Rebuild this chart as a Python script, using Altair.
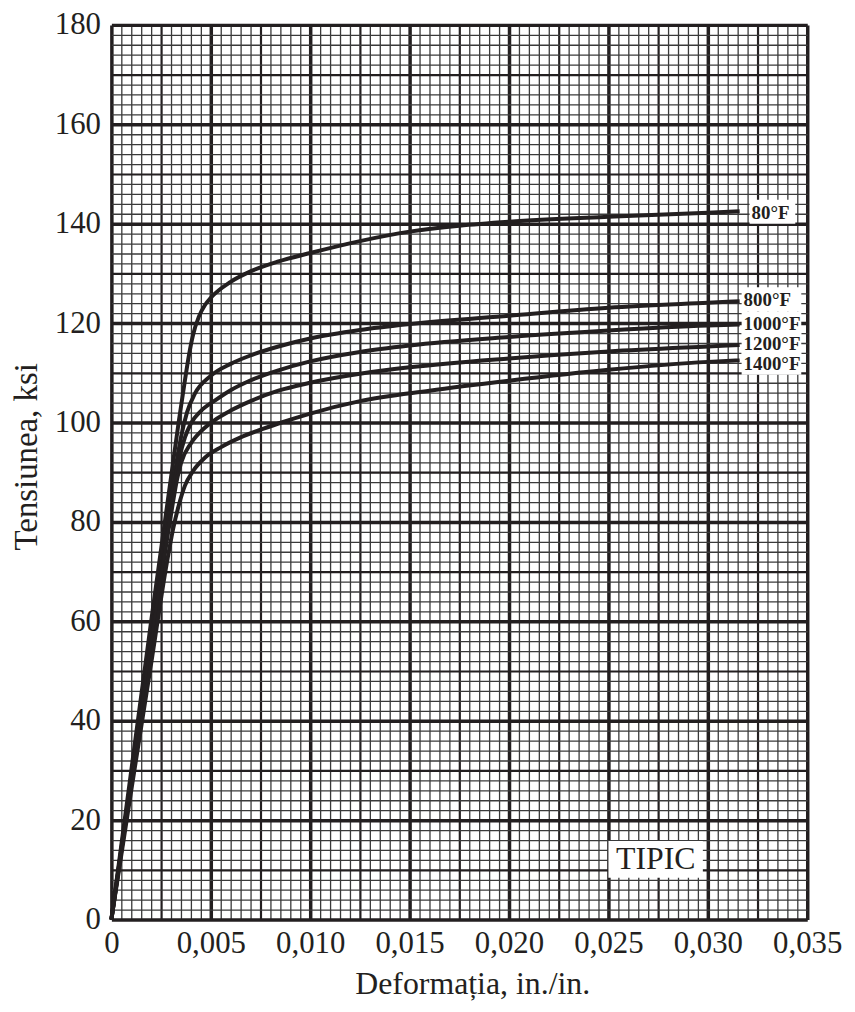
import altair as alt
import pandas as pd

# ---- data (strain in in./in., stress in ksi) ----
labels = ["80°F", "800°F", "1000°F", "1200°F", "1400°F"]

strain_80 = [0, 0.0010, 0.0020, 0.0030, 0.0034, 0.0037, 0.0039, 0.0041, 0.0044, 0.0047, 0.0050,
             0.0060, 0.0070, 0.0084, 0.0100, 0.0125, 0.0150, 0.0175, 0.0200, 0.0250, 0.0300, 0.0316]
stress_80 = [0, 30, 60, 89, 100.5, 108.5, 113.5, 117.5, 121.3, 123.6, 125.1,
             128.3, 130.4, 132.4, 134.1, 136.5, 138.4, 139.6, 140.4, 141.4, 142.2, 142.5]

strain_800 = [0, 0.0010, 0.0020, 0.0028, 0.0030, 0.0033, 0.0035, 0.0038, 0.0042, 0.0050,
              0.0060, 0.0070, 0.0084, 0.0100, 0.0125, 0.0150, 0.0200, 0.0250, 0.0300, 0.0316]
stress_800 = [0, 28.5, 57, 80, 85, 92.5, 97, 102, 105.8, 109.4,
              111.8, 113.5, 115.3, 116.9, 118.6, 119.8, 121.5, 123.1, 124.1, 124.4]

strain_1000 = [0, 0.0010, 0.0020, 0.0028, 0.0031, 0.0034, 0.0037, 0.0040, 0.0045, 0.0052,
               0.0060, 0.0069, 0.0084, 0.0100, 0.0125, 0.0150, 0.0200, 0.0250, 0.0300, 0.0316]
stress_1000 = [0, 28, 56, 78, 86, 92.5, 97, 99.8, 102.3, 104.4,
               106.5, 108.3, 110.5, 112.3, 114.2, 115.5, 117.2, 118.5, 119.5, 119.7]

strain_1200 = [0, 0.0010, 0.0020, 0.0028, 0.0031, 0.0033, 0.0035, 0.0040, 0.0046, 0.0052,
               0.0060, 0.0070, 0.0084, 0.0100, 0.0125, 0.0150, 0.0200, 0.0250, 0.0300, 0.0316]
stress_1200 = [0, 27.5, 55, 76.5, 84, 88.5, 91.8, 95.8, 98.6, 100.5,
               102.4, 104.3, 106.4, 108.0, 109.8, 111.1, 112.9, 114.3, 115.3, 115.6]

strain_1400 = [0, 0.0010, 0.0020, 0.0028, 0.0031, 0.0034, 0.0037, 0.0041, 0.0047, 0.0055,
               0.0065, 0.0074, 0.0084, 0.0100, 0.0125, 0.0160, 0.0200, 0.0250, 0.0300, 0.0316]
stress_1400 = [0, 26, 51.5, 72, 78.5, 83.5, 87.3, 90.2, 92.9, 95.0,
               97.0, 98.4, 99.8, 101.8, 104.3, 106.4, 108.4, 110.6, 112.2, 112.5]

strains = [strain_80, strain_800, strain_1000, strain_1200, strain_1400]
stresses = [stress_80, stress_800, stress_1000, stress_1200, stress_1400]

# stress level at which each curve's label sits
label_stress = [142.4, 124.8, 120.0, 116.0, 112.0]

note_text = ["TIPIC"]
note_x = [0.02738]
note_y = [12.1]
note_box_x = [0.0250]
note_box_x2 = [0.02975]
note_box_y = [8.4]
note_box_y2 = [15.8]

x_ticks = [round(i * 0.0005, 4) for i in range(71)]
y_ticks = list(range(0, 181, 2))

# ---- tables ----
rows = []
for name, xs, ys in zip(labels, strains, stresses):
    for i, (xv, yv) in enumerate(zip(xs, ys)):
        rows.append({"series": name, "order": i, "strain": xv, "stress": yv})
df = pd.DataFrame(rows)

ends = pd.DataFrame({
    "series": labels,
    "strain": [xs[-1] for xs in strains],
    "stress": label_stress,
})
note = pd.DataFrame({"text": note_text, "x": note_x, "y": note_y,
                     "bx": note_box_x, "bx2": note_box_x2,
                     "by": note_box_y, "by2": note_box_y2})

INK = "#231f20"
FONT = "Liberation Serif"

maj_x = "round(datum.value*2000) % 10 === 0"
med_x = "round(datum.value*2000) % 5 === 0"
maj_y = "datum.value % 20 === 0"
med_y = "datum.value % 10 === 0"

x_scale = alt.Scale(domain=[0, 0.035], nice=False, zero=False)
y_scale = alt.Scale(domain=[0, 180], nice=False)

x_axis = alt.Axis(
    values=x_ticks, tickCount=1000, grid=True, ticks=False, tickSize=0, domain=False,
    gridColor={"condition": [{"test": maj_x, "value": INK}, {"test": med_x, "value": INK}], "value": "#3a3a3a"},
    gridWidth={"condition": [{"test": maj_x, "value": 3.5}, {"test": med_x, "value": 2.2}], "value": 1.3},
    labelExpr="round(datum.value*2000) === 0 ? '0' : (round(datum.value*2000) % 10 === 0 ? replace(format(datum.value, '.3f'), '.', ',') : '')",
    labelFont=FONT, labelFontSize=31, labelColor=INK, labelPadding=9,
    labelOverlap=False, labelFlush=False, labelBaseline="top",
    title="Deformația, in./in.", titleFont=FONT, titleFontSize=32, titleFontWeight="normal",
    titleColor=INK, titleX=363, titleY=74, titleAlign="center", titleBaseline="alphabetic",
)
y_axis = alt.Axis(
    values=y_ticks, tickCount=1000, grid=True, ticks=False, tickSize=0, domain=False,
    gridColor={"condition": [{"test": maj_y, "value": INK}, {"test": med_y, "value": INK}], "value": "#3a3a3a"},
    gridWidth={"condition": [{"test": maj_y, "value": 3.5}, {"test": med_y, "value": 2.2}], "value": 1.3},
    labelExpr=maj_y + " ? format(datum.value, 'd') : ''",
    labelFont=FONT, labelFontSize=31, labelColor=INK, labelPadding=11, labelOverlap=False,
    title="Tensiunea, ksi", titleFont=FONT, titleFontSize=33, titleFontWeight="normal",
    titleColor=INK, titleX=-75, titleY=434, titleAngle=270, titleAlign="center",
    titleBaseline="alphabetic",
)

lines = alt.Chart(df).mark_line(interpolate="monotone", strokeWidth=4, color=INK).encode(
    x=alt.X("strain:Q", scale=x_scale, axis=x_axis),
    y=alt.Y("stress:Q", scale=y_scale, axis=y_axis),
    detail="series:N",
    order="order:Q",
)

first = alt.datum.series == labels[0]
box_first = alt.Chart(ends).transform_filter(first).mark_rect(
    color="white", xOffset=10, x2Offset=56, yOffset=-12, y2Offset=12
).encode(x="strain:Q", x2="strain:Q", y="stress:Q", y2="stress:Q")
box_rest = alt.Chart(ends).transform_filter(~first).mark_rect(
    color="white", xOffset=2, x2Offset=62, yOffset=-12, y2Offset=12
).encode(x="strain:Q", x2="strain:Q", y="stress:Q", y2="stress:Q")
text_first = alt.Chart(ends).transform_filter(first).mark_text(
    align="left", baseline="middle", dx=12, dy=1, font=FONT, fontSize=19, fontWeight="bold", color=INK
).encode(x="strain:Q", y="stress:Q", text="series:N")
text_rest = alt.Chart(ends).transform_filter(~first).mark_text(
    align="left", baseline="middle", dx=4, dy=1, font=FONT, fontSize=19, fontWeight="bold", color=INK
).encode(x="strain:Q", y="stress:Q", text="series:N")

note_box = alt.Chart(note).mark_rect(color="white").encode(
    x="bx:Q", x2="bx2:Q", y="by:Q", y2="by2:Q")
note_txt = alt.Chart(note).mark_text(
    align="center", baseline="middle", font=FONT, fontSize=32, color=INK
).encode(x="x:Q", y="y:Q", text="text:N")

chart = alt.layer(lines, box_first, box_rest, text_first, text_rest, note_box, note_txt).properties(
    width=700, height=900,
    autosize=alt.AutoSizeParams(type="none"),
    padding={"left": 104, "top": 14, "right": 40, "bottom": 88},
).configure_view(stroke=INK, strokeWidth=3.5).configure(background="white")

chart.save("out.html", embed_options={"renderer": "svg", "actions": False})
